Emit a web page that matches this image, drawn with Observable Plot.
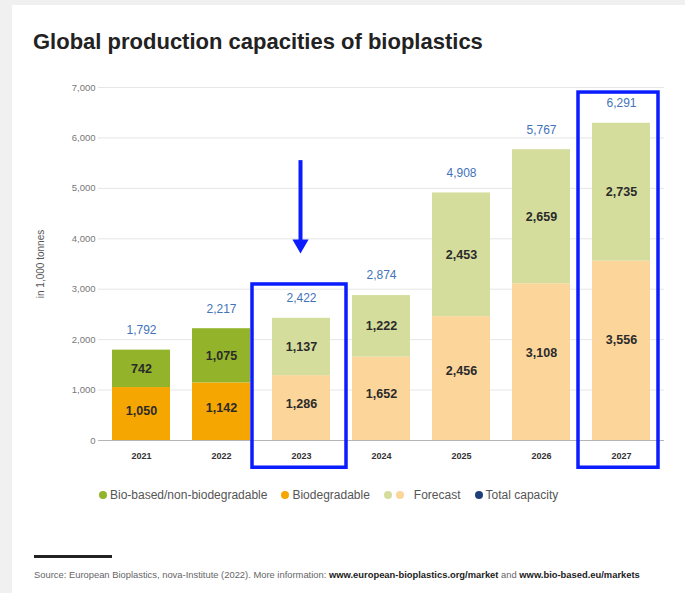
<!DOCTYPE html>
<html>
<head>
<meta charset="utf-8">
<script src="https://cdn.jsdelivr.net/npm/d3@7"></script>
<script src="https://cdn.jsdelivr.net/npm/@observablehq/plot@0.6"></script>
<style>
  html, body { margin: 0; padding: 0; }
  body { width: 685px; height: 593px; background: #f0f0f0; position: relative; overflow: hidden;
         font-family: "Liberation Sans", Arial, Helvetica, sans-serif; }
  #panel { position: absolute; left: 12px; top: 5px; right: 0; bottom: 0; background: #fff; }
  #title { position: absolute; left: 33px; top: 31px; font-size: 22px; font-weight: bold; color: #222; line-height: 1; letter-spacing: 0px; }
  #chart { position: absolute; left: 0; top: 70px; }
  #legend { position: absolute; left: 99px; top: 488px; height: 14px; display: flex; align-items: center; font-size: 12px; color: #555; }
  #legend .item { display: flex; align-items: center; margin-right: 14px; }
  #legend .dot { width: 8px; height: 8px; border-radius: 50%; display: inline-block; margin-right: 3px; }
  #rule { position: absolute; left: 34px; top: 555px; width: 78px; height: 3px; background: #222; }
  #source { position: absolute; left: 34px; top: 569px; font-size: 9.4px; color: #666; white-space: nowrap; }
  #source b { color: #222; }
</style>
</head>
<body>
<div id="panel"></div>
<div id="title">Global production capacities of bioplastics</div>
<div id="chart"></div>
<div id="legend"></div>
<div id="rule"></div>
<div id="source">Source: European Bioplastics, nova-Institute (2022). More information: <b>www.european-bioplastics.org/market</b> and <b>www.bio-based.eu/markets</b></div>
<script>
// ---- data ----
const years = ["2021", "2022", "2023", "2024", "2025", "2026", "2027"];
const biodegradable = [1050, 1142, 1286, 1652, 2456, 3108, 3556];
const bioBased = [742, 1075, 1137, 1222, 2453, 2659, 2735];
const totals = [1792, 2217, 2422, 2874, 4908, 5767, 6291];
const forecastYears = ["2023", "2024", "2025", "2026", "2027"];
const yTicks = [0, 1000, 2000, 3000, 4000, 5000, 6000, 7000];

// annotation (blue highlight boxes and arrow), in data units
const highlightYears = ["2023", "2027"];
const highlightTops = [3094, 6900];
const highlightBottom = -540;
const arrowYear = ["2023"];
const arrowTop = [5550];
const arrowHead = [3893];

// legend
const legendLabels = ["Bio-based/non-biodegradable", "Biodegradable", "Forecast", "Total capacity"];

const colorDomain = ["bio", "bioFc", "deg", "degFc"];
const colorRange = ["#93b32a", "#d5dd9d", "#f6a600", "#fcd59b"];

const fmt = d3.format(",");

const segments = years.flatMap((yr, i) => {
  const fc = forecastYears.includes(yr);
  return [
    { year: yr, key: fc ? "degFc" : "deg", y1: 0, y2: biodegradable[i], value: biodegradable[i], ly: biodegradable[i] * 0.56 },
    { year: yr, key: fc ? "bioFc" : "bio", y1: biodegradable[i], y2: biodegradable[i] + bioBased[i], value: bioBased[i], ly: biodegradable[i] + bioBased[i] / 2 }
  ];
});
const totalRows = years.map((yr, i) => ({ year: yr, total: totals[i] }));
const boxes = highlightYears.map((yr, i) => ({ year: yr, top: highlightTops[i], bottom: highlightBottom }));
const arrows = arrowYear.map((yr, i) => ({ year: yr, top: arrowTop[i], head: arrowHead[i] }));

const blue = "#0b1cff";

const plot = Plot.plot({
  width: 685,
  height: 400,
  marginLeft: 98,
  marginRight: 21,
  marginTop: 17,
  marginBottom: 30,
  style: { fontFamily: "'Liberation Sans', Arial, sans-serif", background: "transparent", overflow: "visible" },
  x: { domain: years, paddingInner: 0.28, paddingOuter: 0.14, label: null },
  y: { domain: [0, 7000], ticks: yTicks, label: null },
  color: { domain: colorDomain, range: colorRange },
  marks: [
    Plot.gridY(yTicks, { stroke: "#e6e6e6", strokeOpacity: 1, strokeWidth: 1 }),
    Plot.axisY(yTicks, { tickSize: 0, tickPadding: 3, tickFormat: fmt, fontSize: 9.5, fill: "#777", label: null }),
    Plot.text(["in 1,000 tonnes"], { frameAnchor: "left", dx: -58, rotate: -90, fontSize: 10, fill: "#555", textAnchor: "middle" }),
    Plot.barY(segments, { x: "year", y1: "y1", y2: "y2", fill: "key" }),
    Plot.ruleY([0], { stroke: "#b5b5b5", strokeWidth: 1 }),
    Plot.axisX({ tickSize: 0, tickPadding: 12, fontSize: 9, fontWeight: "bold", fill: "#333", label: null }),
    Plot.text(segments, { x: "year", y: "ly", text: d => fmt(d.value), fontSize: 12.5, fontWeight: "bold", fill: "#2a2a2a" }),
    Plot.text(totalRows, { x: "year", y: "total", text: d => fmt(d.total), dy: -20, fontSize: 12, fontWeight: 500, fill: "#4472b8" }),
    // highlight boxes
    Plot.barY(boxes.slice(0, 1), { x: "year", y1: "bottom", y2: "top", fill: "none", stroke: blue, strokeWidth: 3.5, insetLeft: -20, insetRight: -16 }),
    Plot.barY(boxes.slice(1, 2), { x: "year", y1: "bottom", y2: "top", fill: "none", stroke: blue, strokeWidth: 3.5, insetLeft: -14, insetRight: -8 }),
    // arrow
    Plot.ruleX(arrows, { x: "year", y1: "top", y2: "head", stroke: blue, strokeWidth: 4, dx: -1 }),
    Plot.dot(arrows, { x: "year", y: "head", symbol: "triangle", rotate: 180, r: 6, fill: blue, stroke: "none", dx: -1 })
  ]
});
document.getElementById("chart").appendChild(plot);

// legend
const legend = document.getElementById("legend");
const legendSwatches = [["#93b32a"], ["#f6a600"], ["#d5dd9d", "#fcd59b"], ["#1f3f7a"]];
legendLabels.forEach((lab, i) => {
  const item = document.createElement("span");
  item.className = "item";
  legendSwatches[i].forEach((c, j) => {
    const d = document.createElement("span");
    d.className = "dot";
    d.style.background = c;
    if (legendSwatches[i].length > 1) d.style.marginRight = j === 0 ? "4px" : "10px";
    item.appendChild(d);
  });
  item.appendChild(document.createTextNode(lab));
  legend.appendChild(item);
});
</script>
</body>
</html>
